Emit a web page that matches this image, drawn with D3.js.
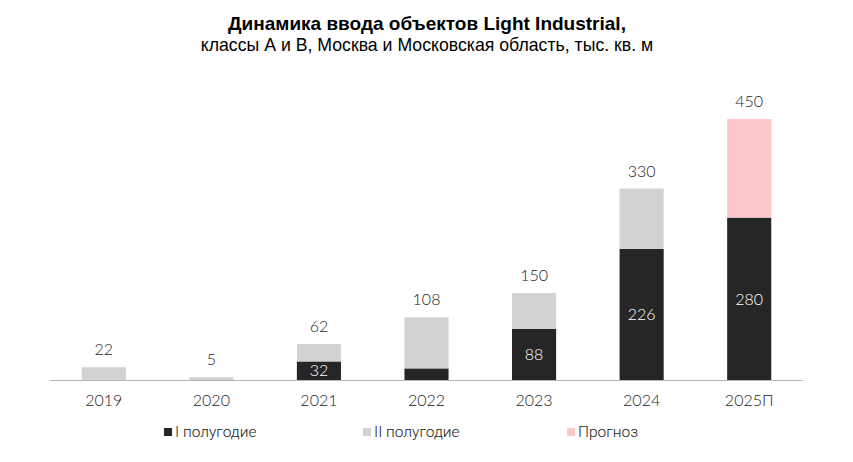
<!DOCTYPE html>
<html lang="ru">
<head>
    <meta charset="UTF-8">
    <title>Динамика ввода объектов Light Industrial</title>
    <script src="https://d3js.org/d3.v7.min.js"></script>
    <style>
        html, body { margin: 0; padding: 0; background: #fff; }
        svg { display: block; }
        .title { font-family: "Liberation Sans", Arial, sans-serif; fill: #000; }
        .num { font-family: Lato, "Open Sans", sans-serif; font-size: 16px; font-weight: 300; }
        .legend text { font-family: Roboto, sans-serif; font-size: 15.5px; fill: #222; font-weight: 300; }
    </style>
</head>
<body>
<div id="chart"></div>
<script>
    // Данные
    const years = ['2019', '2020', '2021', '2022', '2023', '2024', '2025П'];
    const firstHalf = [0, 0, 32, 20, 88, 226, 280];
    const secondHalf = [22, 5, 30, 88, 62, 104, 0];
    const forecast = [0, 0, 0, 0, 0, 0, 170];
    const totals = [22, 5, 62, 108, 150, 330, 450];
    const innerLabels = ['', '', '32', '', '88', '226', '280'];

    const series = [
        { key: 'first', name: 'I полугодие', values: firstHalf, color: '#262626' },
        { key: 'second', name: 'II полугодие', values: secondHalf, color: '#d1d2d1' },
        { key: 'forecast', name: 'Прогноз', values: forecast, color: '#fdc6cb' }
    ];

    const W = 853, H = 462;
    const svg = d3.select('#chart').append('svg')
        .attr('width', W).attr('height', H);

    // Заголовок
    svg.append('text').attr('class', 'title')
        .attr('x', 427).attr('y', 30)
        .attr('text-anchor', 'middle')
        .style('font-size', '19px').style('font-weight', 'bold')
        .text('Динамика ввода объектов Light Industrial,');
    svg.append('text').attr('class', 'title')
        .attr('x', 427).attr('y', 51)
        .attr('text-anchor', 'middle')
        .style('font-size', '17.7px')
        .text('классы А и В, Москва и Московская область, тыс. кв. м');

    const x = d3.scaleBand()
        .domain(years)
        .range([50, 803])
        .paddingInner(0.59)
        .paddingOuter(0.295);

    const y = d3.scaleLinear()
        .domain([0, 450])
        .range([380, 119]);

    // Стек
    const rows = years.map((yr, i) => ({
        year: yr,
        first: firstHalf[i],
        second: secondHalf[i],
        forecast: forecast[i]
    }));
    const stacked = d3.stack().keys(series.map(s => s.key))(rows);

    svg.append('g').selectAll('g')
        .data(stacked)
        .enter().append('g')
        .attr('fill', (d, i) => series[i].color)
        .selectAll('rect')
        .data(d => d)
        .enter().append('rect')
        .attr('x', d => x(d.data.year))
        .attr('y', d => y(d[1]))
        .attr('width', x.bandwidth())
        .attr('height', d => y(d[0]) - y(d[1]));

    // Ось X
    const xAxis = svg.append('g')
        .attr('transform', 'translate(0,380.5)')
        .call(d3.axisBottom(x).tickSize(0).tickPadding(14));
    xAxis.select('.domain').attr('stroke', '#b5b5b5').attr('d', 'M50,0H803');
    xAxis.selectAll('text')
        .attr('class', 'num')
        .attr('fill', '#222')
        .style('font-size', '16px');

    // Итоговые значения
    svg.append('g').selectAll('text')
        .data(totals)
        .enter().append('text')
        .attr('class', 'num')
        .attr('x', (d, i) => x(years[i]) + x.bandwidth() / 2)
        .attr('y', d => y(d) - 12)
        .attr('text-anchor', 'middle')
        .attr('fill', '#222')
        .text(d => d);

    // Подписи внутри I полугодия
    svg.append('g').selectAll('text')
        .data(innerLabels)
        .enter().append('text')
        .attr('class', 'num')
        .attr('x', (d, i) => x(years[i]) + x.bandwidth() / 2)
        .attr('y', (d, i) => (y(0) + y(firstHalf[i])) / 2)
        .attr('dy', '0.36em')
        .attr('text-anchor', 'middle')
        .attr('fill', '#fff')
        .text(d => d);

    // Легенда
    const legendX = [164, 363, 567];
    const legend = svg.append('g').attr('class', 'legend')
        .selectAll('g')
        .data(series)
        .enter().append('g')
        .attr('transform', (d, i) => `translate(${legendX[i]},432)`);
    legend.append('rect')
        .attr('x', 0).attr('y', -4)
        .attr('width', 8).attr('height', 8)
        .attr('fill', d => d.color);
    legend.append('text')
        .attr('x', 11).attr('y', 0)
        .attr('dy', '0.35em')
        .text(d => d.name);
</script>
</body>
</html>
